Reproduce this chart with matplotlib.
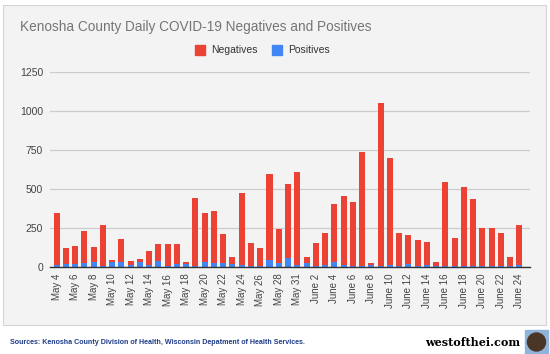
import matplotlib.pyplot as plt
from matplotlib.patches import Rectangle, Ellipse

# daily dates (May 29 not reported)
dates = ["May %d" % d for d in range(4, 29)] + ["May 30", "May 31"] + \
        ["June %d" % d for d in range(1, 25)]

negatives = [331, 101, 113, 210, 96, 265, 15, 147, 25, 21, 89, 107, 137, 126, 15,
             434, 310, 336, 181, 45, 461, 152, 114, 553, 218, 475, 594, 43, 148,
             205, 374, 448, 415, 735, 8, 1050, 686, 210, 186, 167, 149, 26, 541,
             182, 507, 428, 242, 240, 210, 62, 258]
positives = [11, 17, 17, 21, 28, 4, 28, 28, 11, 28, 9, 36, 6, 17, 17, 4, 32, 21,
             26, 15, 9, 2, 6, 43, 26, 53, 11, 21, 4, 9, 28, 9, 2, 4, 13, 4, 9, 4,
             17, 4, 9, 4, 4, 4, 4, 4, 4, 6, 4, 2, 9]

yticks = [0, 250, 500, 750, 1000, 1250]

RED = "#ea4335"
BLUE = "#4285f4"

plt.rcParams['font.family'] = ['Liberation Sans', 'DejaVu Sans']

fig = plt.figure(figsize=(5.5, 3.54), dpi=100, facecolor="white")
W, H = 550.0, 354.0

# gray panel behind the chart
fig.patches.append(Rectangle((3 / W, 1 - 325 / H), 543 / W, 320 / H,
                             transform=fig.transFigure, facecolor="#f3f3f3",
                             edgecolor="#d4d4d4", linewidth=0.8, zorder=-10))

ax = fig.add_axes([50 / W, 1 - 266.7 / H, 480 / W, 194.7 / H])
ax.set_facecolor("none")
ax.set_zorder(2)

x = list(range(len(dates)))
ax.bar(x, positives, width=0.65, color=BLUE, zorder=3)
ax.bar(x, negatives, width=0.65, bottom=positives, color=RED, zorder=3)

ax.set_xlim(-0.72, len(dates) - 1 + 1.15)
ax.set_ylim(0, 1250)
ax.set_yticks(yticks)
ax.set_yticklabels([str(v) for v in yticks], fontsize=7.5, color="#444444")
ax.yaxis.grid(True, color="#cccccc", linewidth=0.9, zorder=0)
ax.set_axisbelow(True)

ax.set_xticks(x[::2])
ax.set_xticklabels(dates[::2], rotation=90, fontsize=7, color="#444444")
ax.tick_params(axis="both", length=0, pad=5)

for s in ["top", "right", "left"]:
    ax.spines[s].set_visible(False)
ax.spines["bottom"].set_color("#333333")
ax.spines["bottom"].set_linewidth(1)
ax.spines["bottom"].set_zorder(4)

fig.text(20 / W, 1 - 27 / H, "Kenosha County Daily COVID-19 Negatives and Positives",
         fontsize=9.8, color="#757575", va="center", ha="left")

# legend
lx, ly = 195, 50
fig.patches.append(Rectangle((lx / W, 1 - (ly + 5) / H), 10 / W, 10 / H,
                             transform=fig.transFigure, color=RED))
fig.text((lx + 16) / W, 1 - ly / H, "Negatives", fontsize=7.5, color="#333333",
         va="center")
fig.patches.append(Rectangle(((lx + 77) / W, 1 - (ly + 5) / H), 10 / W, 10 / H,
                             transform=fig.transFigure, color=BLUE))
fig.text((lx + 93) / W, 1 - ly / H, "Positives", fontsize=7.5, color="#333333",
         va="center")

# footer
fig.text(10 / W, 1 - 343 / H,
         "Sources: Kenosha County Division of Health, Wisconsin Depatment of Health Services.",
         fontsize=5.1, fontweight="bold", color="#1f3c88", va="center")
fig.text(520 / W, 1 - 342 / H, "westofthei.com", fontsize=8, fontweight="bold",
         family="DejaVu Serif", color="black", va="center", ha="right")
fig.patches.append(Rectangle((525 / W, 0), 23 / W, 24 / H,
                             transform=fig.transFigure, color="#8fb3d9"))
fig.patches.append(Ellipse((536.5 / W, 1 - 342 / H), 18 / W, 18 / H,
                           transform=fig.transFigure, color="#4a3526"))

fig.savefig("out.png", dpi=100, facecolor="white")
